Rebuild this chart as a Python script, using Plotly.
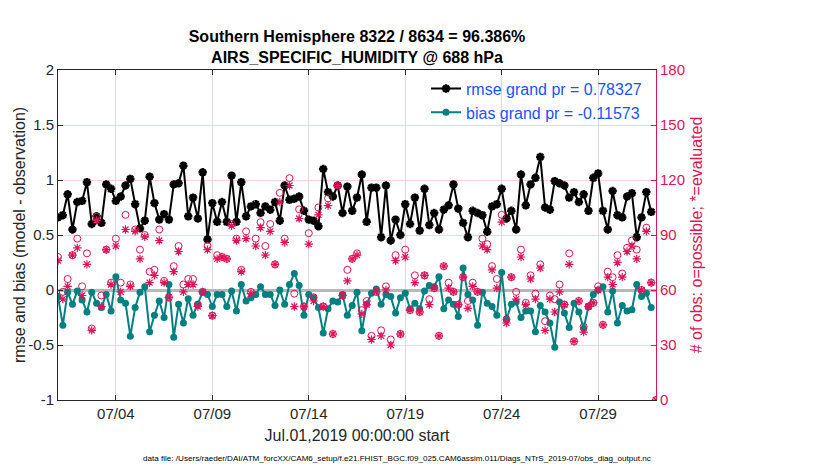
import pandas as pd
import plotly.graph_objects as go

# 6-hourly bins, Jul 01 2019 00Z .. Aug 01 2019 00Z
times = pd.date_range("2019-07-01 00:00", periods=125, freq="6h")

rmse = [0.66, 0.68, 0.87, 0.55, 0.80, 0.81, 0.98, 0.60, 0.67, 0.61,
        0.96, 0.92, 0.81, 0.85, 0.95, 1.01, 0.78, 0.56, 0.63, 1.03,
        0.79, 0.64, 0.69, 0.64, 0.96, 0.97, 1.13, 0.67, 0.84, 0.65,
        1.07, 0.46, 0.79, 0.62, 0.80, 0.62, 1.04, 0.62, 0.98, 0.67,
        0.76, 0.78, 0.70, 0.76, 0.73, 0.80, 0.63, 0.95, 0.82, 0.83,
        0.85, 0.72, 0.64, 0.63, 0.58, 1.10, 0.89, 0.85, 0.95, 0.70,
        0.94, 0.72, 0.84, 1.05, 0.62, 0.93, 0.93, 0.48, 0.95, 0.45,
        0.64, 0.50, 0.78, 0.60, 0.84, 0.54, 0.92, 0.59, 0.70, 0.55,
        0.73, 0.77, 0.96, 0.74, 0.61, 0.48, 0.72, 0.70, 0.68, 0.53,
        0.76, 0.78, 0.92, 0.65, 0.72, 0.55, 1.05, 0.77, 0.96, 1.02,
        1.21, 0.75, 0.73, 0.99, 0.97, 0.95, 0.84, 0.89, 0.80, 0.87,
        0.72, 1.02, 1.06, 0.72, 0.55, 0.90, 0.68, 0.66, 0.85, 0.88,
        0.48, 0.66, 0.89, 0.71, None]

bias = [-0.06, -0.32, -0.02, -0.13, -0.01, -0.09, -0.20, -0.02, -0.12, -0.16,
        -0.04, -0.19, 0.12, -0.09, -0.12, -0.42, -0.16, -0.02, 0.03, -0.38,
        -0.23, -0.10, -0.25, 0.05, -0.43, -0.13, -0.30, -0.08, -0.23, -0.13,
        -0.02, -0.04, -0.15, -0.04, -0.04, -0.15, -0.01, -0.19, 0.05, -0.10,
        -0.07, -0.04, 0.03, -0.04, -0.04, -0.14, 0.00, -0.13, 0.05, 0.15,
        0.04, -0.23, -0.04, -0.07, -0.16, -0.39, -0.17, -0.10, -0.11, -0.04,
        -0.23, -0.14, -0.02, -0.37, -0.13, -0.03, 0.01, -0.13, -0.04, -0.06,
        -0.21, -0.07, -0.03, -0.17, -0.12, -0.17, -0.01, 0.04, 0.03, 0.12,
        -0.17, -0.09, -0.13, -0.24, 0.20, -0.04, -0.09, -0.32, -0.02, -0.12,
        -0.15, -0.23, 0.16, -0.27, -0.13, -0.11, -0.25, -0.19, -0.19, -0.38,
        -0.14, -0.20, -0.30, -0.52, -0.11, -0.21, -0.34, -0.12, -0.20, -0.35,
        -0.15, -0.04, 0.00, 0.03, -0.20, -0.01, -0.30, -0.14, -0.19, -0.18,
        0.05, -0.06, -0.03, -0.16, None]

n_possible = [78, 59, 66, 79, 88, 62, 80, 39, 100, 57,
              82, 64, 88, 64, 101, 63, 93, 82, 90, 70,
              71, 93, 65, 56, 73, 84, 63, 66, 66, 52,
              59, 84, 46, 79, 78, 77, 96, 88, 71, 92,
              59, 88, 97, 84, 96, 74, 113, 88, 121, 58,
              104, 51, 91, 56, 105, 51, 110, 36, 117, 57,
              71, 77, 80, 49, 54, 35, 59, 38, 62, 33,
              79, 36, 82, 49, 68, 48, 68, 55, 61, 35,
              73, 64, 59, 52, 67, 54, 64, 59, 88, 85,
              73, 66, 101, 44, 67, 59, 82, 53, 68, 58,
              74, 43, 57, 55, 63, 52, 80, 32, 54, 40,
              51, 53, 62, 41, 70, 67, 79, 69, 83, 87,
              82, 60, 94, 64, 0]

n_used = [76, 55, 62, 79, 83, 57, 74, 38, 98, 51,
          82, 63, 84, 59, 93, 62, 92, 77, 89, 64,
          68, 87, 64, 56, 70, 81, 59, 63, 63, 51,
          59, 82, 46, 77, 78, 77, 95, 87, 70, 88,
          58, 84, 94, 79, 92, 74, 108, 86, 117, 51,
          99, 51, 85, 54, 101, 51, 106, 36, 117, 57,
          65, 77, 79, 47, 52, 33, 59, 35, 60, 30,
          76, 36, 78, 49, 64, 48, 68, 52, 61, 35,
          73, 61, 59, 52, 67, 50, 62, 59, 84, 82,
          71, 61, 97, 42, 67, 55, 78, 52, 66, 55,
          72, 38, 55, 48, 59, 52, 74, 32, 54, 37,
          51, 53, 60, 41, 67, 63, 75, 67, 81, 84,
          77, 60, 92, 64, 0]

tick_dates = ["2019-07-04", "2019-07-09", "2019-07-14", "2019-07-19", "2019-07-24", "2019-07-29"]
tick_text = ["07/04", "07/09", "07/14", "07/19", "07/24", "07/29"]

FONT = "Liberation Sans, Arial, sans-serif"
RED = "#dc145a"
TEAL = "#008080"

fig = go.Figure()
fig.add_trace(go.Scatter(x=times, y=rmse, mode="lines+markers", name="rmse grand pr = 0.78327",
                         line=dict(color="black", width=2),
                         marker=dict(symbol="asterisk-open", size=7, color="black",
                                     line=dict(color="black", width=2.5))))
fig.add_trace(go.Scatter(x=times, y=bias, mode="lines+markers", name="bias grand pr = -0.11573",
                         line=dict(color=TEAL, width=2),
                         marker=dict(symbol="circle", size=7, color=TEAL)))
fig.add_trace(go.Scatter(x=times, y=n_possible, mode="markers", yaxis="y2", showlegend=False,
                         marker=dict(symbol="circle-open", size=7, color=RED, line=dict(color=RED, width=1))))
fig.add_trace(go.Scatter(x=times, y=n_used, mode="markers", yaxis="y2", showlegend=False,
                         marker=dict(symbol="asterisk-open", size=7, color=RED, line=dict(color=RED, width=1.2))))

fig.update_layout(
    width=830, height=470,
    margin=dict(l=50, r=182, t=62, b=78),
    plot_bgcolor="white", paper_bgcolor="white",
    font=dict(family=FONT, size=15, color="#262626"),
    title=dict(text="<b>Southern Hemisphere 8322 / 8634 = 96.386%<br>AIRS_SPECIFIC_HUMIDITY @ 688 hPa</b>",
               x=(357 - 8) / 830, xanchor="center", y=1 - 34 / 470, yanchor="top",
               font=dict(size=16, color="black")),
    legend=dict(x=0.985, xanchor="right", y=0.995, yanchor="top", bgcolor="rgba(0,0,0,0)",
                font=dict(size=16, color="#1a53ff"), tracegroupgap=0),
    xaxis=dict(type="date", range=["2019-07-01", "2019-08-01"],
               tickvals=tick_dates, ticktext=tick_text,
               showgrid=True, gridcolor="#dcdcdc", gridwidth=1,
               ticks="inside", ticklen=5, tickcolor="#262626",
               showline=True, linecolor="#262626", mirror="ticks",
               automargin=False,
               title=dict(text="Jul.01,2019 00:00:00 start", standoff=8, font=dict(size=16)),
               tickfont=dict(size=15)),
    yaxis=dict(range=[-1, 2], tickvals=[-1, -0.5, 0, 0.5, 1, 1.5, 2],
               ticktext=["-1", "-0.5", "0", "0.5", "1", "1.5", "2"],
               showgrid=False, zeroline=True, zerolinecolor="#b8b8b8", zerolinewidth=3,
               ticks="inside", ticklen=5, tickcolor="#262626",
               showline=True, linecolor="#262626",
               automargin=False,
               tickfont=dict(size=15)),
    yaxis2=dict(overlaying="y", side="right", range=[0, 180], dtick=30,
                showgrid=True, gridcolor="#f7d3df", zeroline=False,
                ticks="inside", ticklen=5, tickcolor=RED,
                showline=True, linecolor=RED, color=RED,
                automargin=False,
                title=dict(text="# of obs: o=possible; *=evaluated", standoff=6,
                           font=dict(color=RED, size=16)),
                tickfont=dict(size=15, color=RED)),
)

# left axis label placed as rotated text
fig.add_annotation(text="rmse and bias (model - observation)", textangle=-90,
                   xref="paper", yref="paper", x=(11 - 50) / 598, y=0.5, showarrow=False,
                   xanchor="center", yanchor="middle", font=dict(size=16, color="#262626"))

fig.add_annotation(text="data file: /Users/raeder/DAI/ATM_forcXX/CAM6_setup/f.e21.FHIST_BGC.f09_025.CAM6assim.011/Diags_NTrS_2019-07/obs_diag_output.nc",
                   xref="paper", yref="paper", x=0.567, y=-0.176, showarrow=False,
                   xanchor="center", yanchor="middle", font=dict(size=8.1, color="black"))

fig.write_html("out.html")
